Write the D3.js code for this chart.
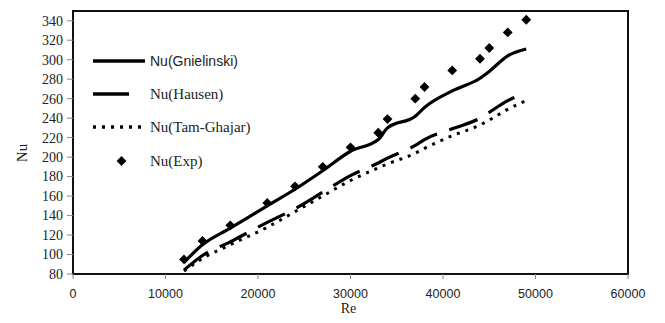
<!DOCTYPE html>
<html>
<head>
<meta charset="utf-8">
<script src="https://cdn.jsdelivr.net/npm/d3@7"></script>
<style>
  body { margin: 0; background: #fff; }
  svg { display: block; }
</style>
</head>
<body>
<svg id="chart" width="665" height="323"></svg>
<script>
// Reynolds numbers shared by all series
const reValues = [12000, 14000, 17000, 21000, 24000, 27000, 30000, 33000, 34000, 37000, 38000, 41000, 44000, 45000, 47000, 49000];
const nuGnielinski = [92, 110, 127, 150, 167, 186, 206, 218, 230, 242, 251, 268, 281, 288, 304, 311];
const nuHausen     = [84, 99, 113, 133, 147, 164, 181, 194, 199, 212, 218, 229, 240, 246, 258, 266];
const nuTamGhajar  = [83, 96, 110, 128, 144, 160, 176, 189, 193, 204, 209, 222, 233, 238, 249, 258];
const nuExp        = [95, 114, 130, 153, 170, 190, 210, 225, 239, 260, 272, 289, 301, 312, 328, 341];

const xTicks = [0, 10000, 20000, 30000, 40000, 50000, 60000];
const yTicks = [80, 100, 120, 140, 160, 180, 200, 220, 240, 260, 280, 300, 320, 340];
const legendLabels = ['Nu(Gnielinski)', 'Nu(Hausen)', 'Nu(Tam-Ghajar)', 'Nu(Exp)'];

const svg = d3.select('#chart');
const plot = { left: 73, right: 628, top: 11, bottom: 274 };

const x = d3.scaleLinear().domain([0, 60000]).range([plot.left, plot.right]);
const y = d3.scaleLinear().domain([80, 350]).range([plot.bottom, plot.top]);

const serif = '"Liberation Serif", "Times New Roman", serif';
const sans = '"Liberation Sans", Arial, sans-serif';

// Plot frame
svg.append('rect')
    .attr('x', plot.left).attr('y', plot.top)
    .attr('width', plot.right - plot.left).attr('height', plot.bottom - plot.top)
    .attr('fill', 'none')
    .attr('stroke', '#111')
    .attr('stroke-width', 2);

// Y axis ticks and labels
svg.selectAll('.ytick')
    .data(yTicks)
    .join('line')
    .attr('class', 'ytick')
    .attr('x1', plot.left - 6).attr('x2', plot.left)
    .attr('y1', d => y(d)).attr('y2', d => y(d))
    .attr('stroke', '#888')
    .attr('stroke-width', 1);

svg.selectAll('.ylabel')
    .data(yTicks)
    .join('text')
    .attr('class', 'ylabel')
    .attr('x', plot.left - 10)
    .attr('y', d => y(d))
    .attr('dy', '0.35em')
    .attr('text-anchor', 'end')
    .style('font-family', serif)
    .style('font-size', '14px')
    .style('fill', '#222')
    .text(d => d);

// X axis ticks and labels
svg.selectAll('.xtick')
    .data(xTicks)
    .join('line')
    .attr('class', 'xtick')
    .attr('x1', d => x(d)).attr('x2', d => x(d))
    .attr('y1', plot.bottom).attr('y2', plot.bottom + 5)
    .attr('stroke', '#888')
    .attr('stroke-width', 1);

svg.selectAll('.xlabel')
    .data(xTicks)
    .join('text')
    .attr('class', 'xlabel')
    .attr('x', d => x(d))
    .attr('y', 298)
    .attr('text-anchor', 'middle')
    .style('font-family', sans)
    .style('font-size', '12.5px')
    .style('fill', '#222')
    .text(d => d);

// Axis titles
svg.append('text')
    .attr('x', (plot.left + plot.right) / 2 - 2)
    .attr('y', 313)
    .attr('text-anchor', 'middle')
    .style('font-family', serif)
    .style('font-size', '14px')
    .style('fill', '#222')
    .text('Re');

svg.append('text')
    .attr('transform', `translate(27, 153) rotate(-90)`)
    .attr('text-anchor', 'middle')
    .style('font-family', serif)
    .style('font-size', '15px')
    .style('fill', '#222')
    .text('Nu');

// Series lines
const styles = [
    { values: nuGnielinski, dash: null, width: 3.2 },
    { values: nuHausen, dash: '30,13', width: 3.2 },
    { values: nuTamGhajar, dash: '3,6', width: 3 }
];

const line = d3.line()
    .x(d => x(d[0]))
    .y(d => y(d[1]))
    .curve(d3.curveMonotoneX);

styles.slice().reverse().forEach(s => {
    svg.append('path')
        .datum(reValues.map((re, i) => [re, s.values[i]]))
        .attr('d', line)
        .attr('fill', 'none')
        .attr('stroke', '#000')
        .attr('stroke-width', s.width)
        .attr('stroke-dasharray', s.dash);
});

// Experimental points
const diamond = d3.symbol().type(d3.symbolSquare).size(48);
svg.selectAll('.exp')
    .data(reValues.map((re, i) => [re, nuExp[i]]))
    .join('path')
    .attr('class', 'exp')
    .attr('d', diamond)
    .attr('transform', d => `translate(${x(d[0])},${y(d[1])}) rotate(45)`)
    .attr('fill', '#000');

// Legend
const legendY = [61, 94, 127, 161];
const legend = svg.append('g');
[
    { x2: 145, dash: null },
    { x2: 129, dash: null },
    { x2: 143, dash: '3,6' }
].forEach((s, i) => {
    legend.append('line')
        .attr('x1', 93).attr('x2', s.x2)
        .attr('y1', legendY[i]).attr('y2', legendY[i])
        .attr('stroke', '#000')
        .attr('stroke-width', 3.5)
        .attr('stroke-dasharray', s.dash);
});
legend.append('path')
    .attr('d', diamond)
    .attr('transform', `translate(121.5,${legendY[3]}) rotate(45)`)
    .attr('fill', '#000');

legend.selectAll('.legend-label')
    .data(legendLabels)
    .join('text')
    .attr('class', 'legend-label')
    .attr('x', 150)
    .attr('y', (d, i) => legendY[i])
    .attr('dy', '0.35em')
    .style('font-family', (d, i) => i === 0 ? sans : serif)
    .style('font-size', (d, i) => i === 0 ? '14px' : '15px')
    .style('fill', '#222')
    .text(d => d);
</script>
</body>
</html>
